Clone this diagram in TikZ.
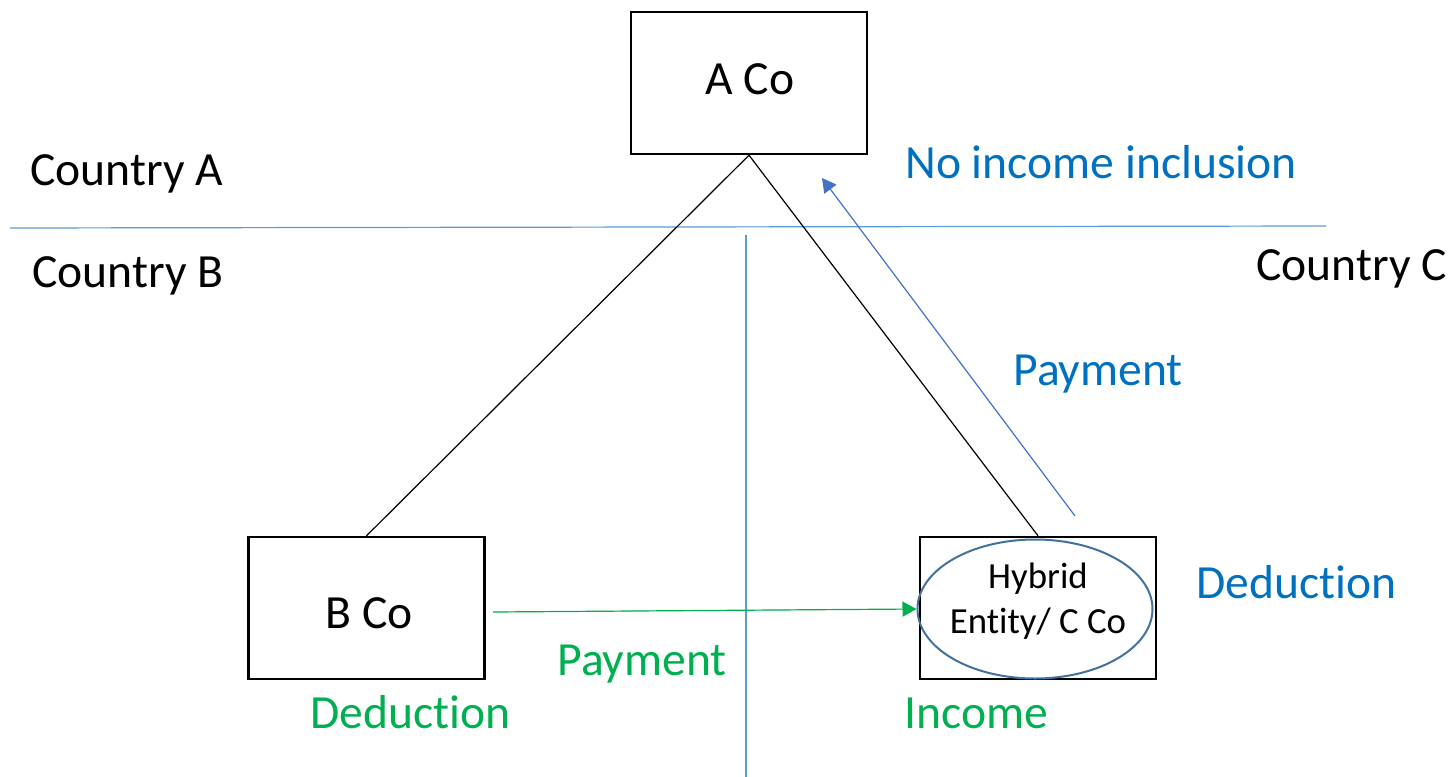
\documentclass[tikz,border=0pt]{standalone}
\usepackage{fontspec}
\setmainfont{Carlito}[Ligatures=NoCommon]
\usetikzlibrary{arrows.meta,shapes.geometric}
\definecolor{txtblue}{HTML}{0070C0}
\definecolor{txtgreen}{HTML}{00B050}
\definecolor{divblue}{HTML}{5B9BD5}
\definecolor{arrblue}{HTML}{4472C4}
\definecolor{ellblue}{HTML}{41719C}
\tikzset{
  entity/.style={draw=black, line width=1.2pt, minimum width=118pt, minimum height=71pt, inner sep=0pt},
  lbl/.style={anchor=base west, inner sep=0pt, font=\fontsize{23.8}{28}\selectfont},
  small/.style={anchor=base, inner sep=0pt, font=\fontsize{18.4}{22}\selectfont},
  divider/.style={draw=divblue, line width=0.6pt},
  owner/.style={draw=black, line width=0.6pt},
  flow/.style={line width=0.6pt, -{Triangle[length=7pt,width=7.5pt]}}
}
\begin{document}
\begin{tikzpicture}[x=0.5pt,y=-0.5pt]
\useasboundingbox (0,0) rectangle (1453,777);

% jurisdiction boundaries
\coordinate (hl) at (10,228);
\coordinate (hr) at (1326,226);
\coordinate (vt) at (746,235);
\coordinate (vb) at (746,777);
\draw[divider] (hl) -- (hr);
\draw[divider] (vt) -- (vb);

% entities
\node[entity] (aco) at (749,83) {};
\node[entity] (bco) at (366.5,608) {};
\node[entity] (hyb) at (1038,608) {};
\node[draw=ellblue, line width=1pt, ellipse, minimum width=117.5pt, minimum height=69.5pt, inner sep=0pt] (ell) at (1035,609) {};

\node[lbl] (acot) at (705,94) {A Co};
\node[lbl] (bcot) at (325,628) {B Co};
\node[small] (hyb1) at (1038,588) {Hybrid};
\node[small] (hyb2) at (1038,633) {Entity/ C Co};

% ownership
\draw[owner] (aco.south) -- (bco.north);
\draw[owner] (aco.south) -- (hyb.north);

% payments
\coordinate (gs) at (493,612);
\draw[flow, draw=txtgreen, fill=txtgreen] (gs) -- (ell.west);
\coordinate (bs) at (1075,516);
\coordinate (be) at (822,178);
\draw[flow, draw=arrblue, fill=arrblue] (bs) -- (be);

% country labels
\node[lbl] (ca) at (30,185) {Country A};
\node[lbl] (cb) at (32,287) {Country B};
\node[lbl] (cc) at (1256,280) {Country C};

% tax treatment labels
\node[lbl, text=txtblue] (noinc) at (905,178) {No income inclusion};
\node[lbl, text=txtblue] (payb) at (1013,385) {Payment};
\node[lbl, text=txtblue] (dedb) at (1196,598) {Deduction};
\node[lbl, text=txtgreen] (payg) at (557,675) {Payment};
\node[lbl, text=txtgreen] (dedg) at (310,728) {Deduction};
\node[lbl, text=txtgreen] (incg) at (904,728) {Income};
\end{tikzpicture}
\end{document}
